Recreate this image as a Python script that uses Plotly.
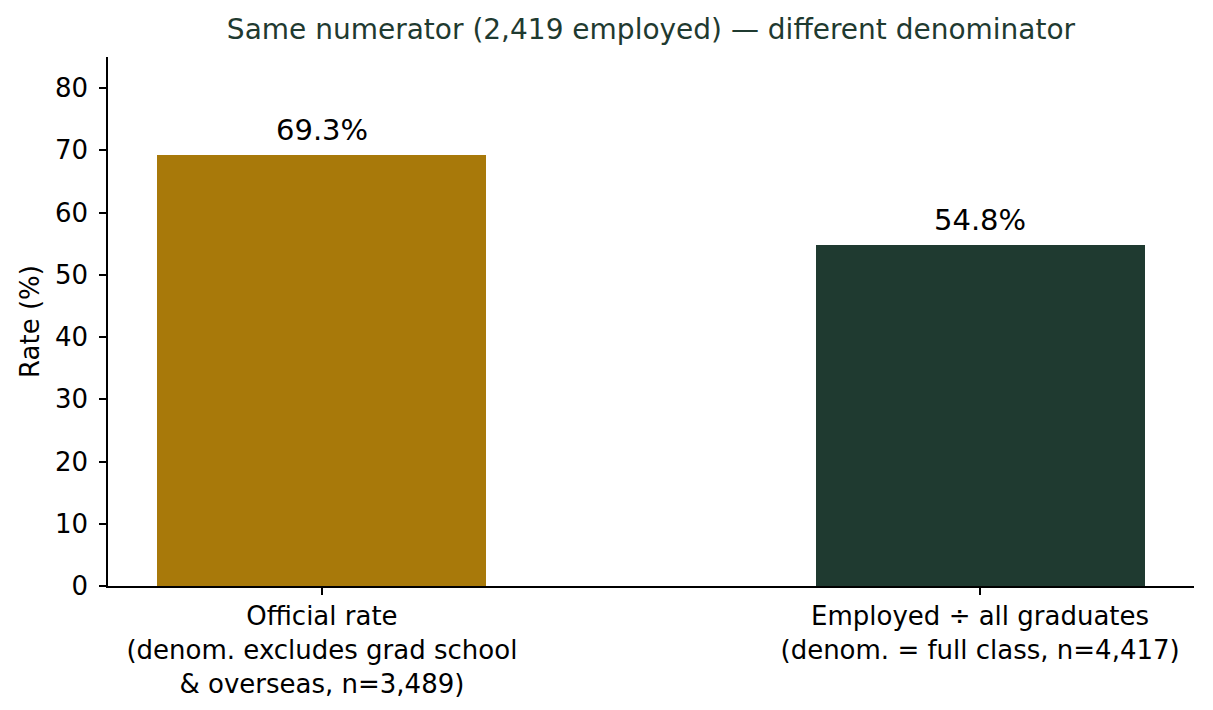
import plotly.graph_objects as go

categories = [
    "Official rate<br>(denom. excludes grad school<br>& overseas, n=3,489)",
    "Employed ÷ all graduates<br>(denom. = full class, n=4,417)",
]
rates = [69.3, 54.8]
bar_colors = ["#a8790a", "#1f3a30"]
title_text = "Same numerator (2,419 employed) — different denominator"

fig = go.Figure(go.Bar(
    x=categories,
    y=rates,
    width=0.5,
    marker_color=bar_colors,
    marker_line_width=0,
    hoverinfo="skip",
))

# value labels above the bars
for cat, val in zip(categories, rates):
    fig.add_annotation(
        x=cat, y=val, text=f"{val:.1f}%",
        showarrow=False, yanchor="bottom", yshift=6,
        font=dict(size=29, color="black"),
    )

# page body has an 8px margin, so margins are offset to land the axes in place
fig.update_layout(
    width=1213, height=710,
    margin=dict(l=100, r=27, t=49, b=132),
    plot_bgcolor="white", paper_bgcolor="white",
    font=dict(family="DejaVu Sans", size=26, color="black"),
    title=dict(text=title_text, x=0.5, xref="paper", xanchor="center",
               y=1, yref="container", yanchor="top", pad=dict(t=11),
               font=dict(size=28, color="#1f3a30")),
    showlegend=False,
    bargap=0,
)
fig.update_xaxes(
    range=[-0.325, 1.325], showline=True, linecolor="black", linewidth=1.5,
    ticks="outside", ticklen=7, tickwidth=1.5, tickcolor="black",
    showgrid=False, zeroline=False, tickfont=dict(size=26),
    ticklabelstandoff=-1,
)
fig.update_yaxes(
    range=[0, 85], dtick=10, showline=True, linecolor="black", linewidth=1.5,
    ticks="outside", ticklen=7, tickwidth=1.5, tickcolor="black",
    showgrid=False, zeroline=False, tickfont=dict(size=26),
    ticklabelstandoff=6,
    title=dict(text="Rate (%)", standoff=8, font=dict(size=26)),
)

fig.write_html("out.html")
